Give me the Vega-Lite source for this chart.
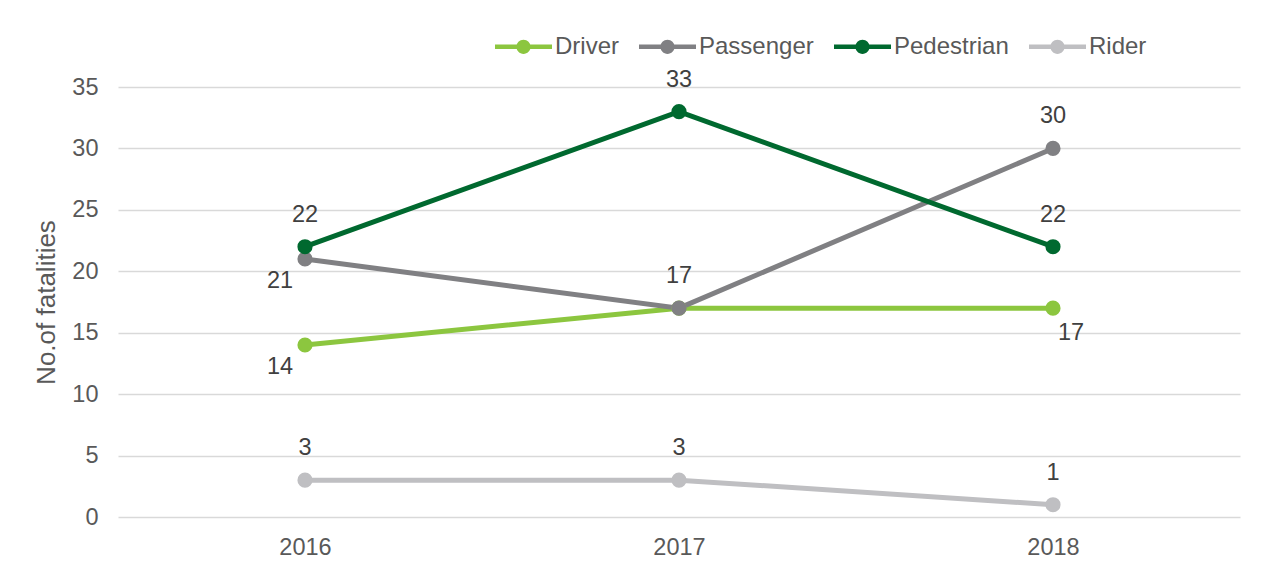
{
  "$schema": "https://vega.github.io/schema/vega-lite/v6.json",
  "width": 1122,
  "height": 430,
  "autosize": {"type": "none"},
  "padding": {"left": 118, "top": 87, "right": 29, "bottom": 62},
  "background": "white",
  "config": {
    "font": "Liberation Sans",
    "view": {"stroke": null},
    "axis": {"labelFont": "Liberation Sans", "titleFont": "Liberation Sans"}
  },
  "data": {
    "values": [
      {"year": "2016", "series": "Driver", "value": 14},
      {"year": "2017", "series": "Driver", "value": 17},
      {"year": "2018", "series": "Driver", "value": 17},
      {"year": "2016", "series": "Passenger", "value": 21},
      {"year": "2017", "series": "Passenger", "value": 17},
      {"year": "2018", "series": "Passenger", "value": 30},
      {"year": "2016", "series": "Pedestrian", "value": 22},
      {"year": "2017", "series": "Pedestrian", "value": 33},
      {"year": "2018", "series": "Pedestrian", "value": 22},
      {"year": "2016", "series": "Rider", "value": 3},
      {"year": "2017", "series": "Rider", "value": 3},
      {"year": "2018", "series": "Rider", "value": 1}
    ]
  },
  "encoding": {
    "x": {
      "field": "year", "type": "ordinal",
      "scale": {"type": "point", "padding": 0.5},
      "axis": {"title": null, "labelAngle": 0, "domain": false, "ticks": false, "labelFontSize": 23.5, "labelColor": "#595959", "labelPadding": 18}
    },
    "y": {
      "field": "value", "type": "quantitative",
      "scale": {"domain": [0, 35], "nice": false},
      "axis": {"title": "No.of fatalities", "titleFontSize": 26, "titleFontWeight": "normal", "titleColor": "#595959", "titlePadding": 12,
        "values": [0, 5, 10, 15, 20, 25, 30, 35], "domain": false, "ticks": false, "labelFontSize": 23.5, "labelColor": "#595959", "labelPadding": 20,
        "gridColor": "#d9d9d9", "gridWidth": 1.5}
    },
    "color": {"field": "series", "type": "nominal",
      "scale": {"domain": ["Driver", "Passenger", "Pedestrian", "Rider"], "range": ["#8cc63f", "#808083", "#00692f", "#bfbfc2"]},
      "legend": {"title": null, "orient": "none", "direction": "horizontal", "legendX": 377, "legendY": -69,
        "symbolType": "M-1,-0.08H1V0.08H-1Z M-0.25,0A0.25,0.25 0 1,1 0.25,0A0.25,0.25 0 1,1 -0.25,0Z",
        "symbolSize": 3249, "symbolStrokeWidth": 0, "symbolOpacity": 1, "labelFontSize": 24, "labelColor": "#595959",
        "labelOffset": 3, "columnPadding": 20, "padding": 0}}
  },
  "layer": [
    {
      "mark": {"type": "line", "strokeWidth": 5}
    },
    {
      "mark": {"type": "point", "filled": true, "size": 230, "opacity": 1}
    },
    {
      "transform": [{"filter": "datum.series == 'Pedestrian' || datum.series == 'Rider' || (datum.series == 'Passenger' && datum.year != '2016')"}],
      "mark": {"type": "text", "dy": -32, "fontSize": 23.5, "baseline": "middle", "align": "center"},
      "encoding": {"text": {"field": "value", "type": "quantitative"}, "color": {"value": "#404040"}}
    },
    {
      "transform": [{"filter": "datum.year == '2016' && (datum.series == 'Driver' || datum.series == 'Passenger')"}],
      "mark": {"type": "text", "dx": -25, "dy": 22, "fontSize": 23.5, "baseline": "middle", "align": "center"},
      "encoding": {"text": {"field": "value", "type": "quantitative"}, "color": {"value": "#404040"}}
    },
    {
      "transform": [{"filter": "datum.year == '2018' && datum.series == 'Driver'"}],
      "mark": {"type": "text", "dx": 18, "dy": 25, "fontSize": 23.5, "baseline": "middle", "align": "center"},
      "encoding": {"text": {"field": "value", "type": "quantitative"}, "color": {"value": "#404040"}}
    }
  ]
}
